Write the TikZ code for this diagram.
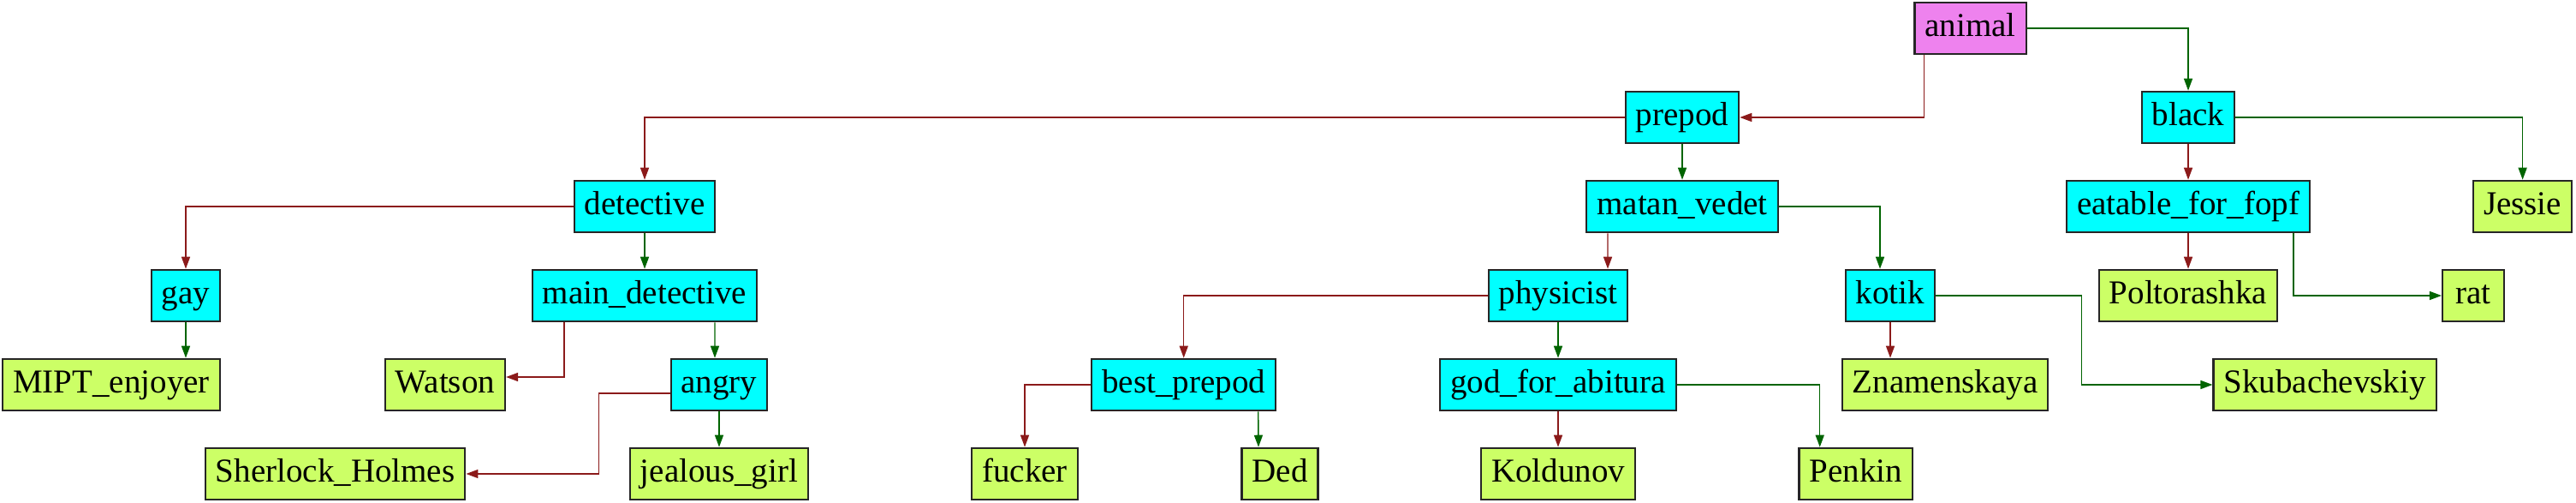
\documentclass[tikz,border=0pt]{standalone}
\usepackage{fontspec}
\setmainfont{Liberation Serif}
\usepackage{xcolor}
\usepackage{tikz}
\usetikzlibrary{arrows.meta}

\definecolor{rootfill}{HTML}{EE82EE}
\definecolor{askfill}{HTML}{00FFFF}
\definecolor{leaffill}{HTML}{CCFF66}
\definecolor{nocol}{HTML}{8B1A1A}
\definecolor{yescol}{HTML}{006400}

\begin{document}
\begin{tikzpicture}[
    box/.style={rectangle, draw=black!85, line width=0.6pt, minimum height=0.55cm, minimum width=0.72cm,
        inner xsep=0.12cm, text height=0.28cm, text depth=0.09cm, font=\fontsize{11.1}{13}\selectfont},
    root/.style={box, fill=rootfill},
    ask/.style={box, fill=askfill},
    leaf/.style={box, fill=leaffill},
    no/.style={draw=nocol, line width=0.4pt},
    yes/.style={draw=yescol, line width=0.4pt},
    ->, >={Triangle[length=0.14cm, width=0.1cm]}
]
\useasboundingbox (0,0) rectangle (30.09,-5.87);

% Questions
\node[root] (animal) at (23.015,-0.33) {animal};
\node[ask] (prepod) at (19.65,-1.37) {prepod};
\node[ask] (black) at (25.56,-1.37) {black};
\node[ask] (detective) at (7.53,-2.41) {detective};
\node[ask] (matan) at (19.65,-2.41) {matan\_vedet};
\node[ask] (eatable) at (25.56,-2.41) {eatable\_for\_fopf};
\node[ask] (gay) at (2.17,-3.45) {gay};
\node[ask] (maindet) at (7.53,-3.45) {main\_detective};
\node[ask] (physicist) at (18.20,-3.45) {physicist};
\node[ask] (kotik) at (22.08,-3.45) {kotik};
\node[ask] (angry) at (8.40,-4.49) {angry};
\node[ask] (bestprepod) at (13.827,-4.49) {best\_prepod};
\node[ask] (god) at (18.20,-4.49) {god\_for\_abitura};

% Answers
\foreach \n/\x/\t in {jessie/29.466/Jessie} {
    \node[leaf] (\n) at (\x,-2.41) {\t};
}
\foreach \n/\x/\t in {poltorashka/25.56/Poltorashka, rat/28.89/rat} {
    \node[leaf] (\n) at (\x,-3.45) {\t};
}
\foreach \n/\x/\t in {mipt/1.30/MIPT\_enjoyer, watson/5.20/Watson, znam/22.72/Znamenskaya, skub/27.156/Skubachevskiy} {
    \node[leaf] (\n) at (\x,-4.49) {\t};
}
\foreach \n/\x/\t in {sherlock/3.916/Sherlock\_Holmes, jealous/8.40/jealous\_girl, fucker/11.97/fucker,
    ded/14.95/Ded, koldunov/18.20/Koldunov, penkin/21.677/Penkin} {
    \node[leaf] (\n) at (\x,-5.53) {\t};
}

% Straight down
\draw[yes] (prepod.south) -- (matan.north);
\draw[no] (black.south) -- (eatable.north);
\draw[yes] (detective.south) -- (maindet.north);
\draw[no] (eatable.south) -- (poltorashka.north);
\draw[yes] (physicist.south) -- (god.north);
\draw[yes] (angry.south) -- (jealous.north);
\draw[no] (god.south) -- (koldunov.north);
\draw[yes] (gay.south) -- (gay.south |- mipt.north);
\draw[no] (kotik.south) -- (kotik.south |- znam.north);
\draw[no] ([xshift=-0.87cm]matan.south) -- ([xshift=0.58cm]physicist.north);
\draw[yes] ([xshift=0.82cm]maindet.south) -- ([xshift=-0.05cm]angry.north);
\draw[yes] ([xshift=0.87cm]bestprepod.south) -- ([xshift=-0.25cm]ded.north);

% Bends
\draw[no] ([xshift=-0.54cm]animal.south) |- (prepod.east);
\draw[yes] (animal.east) -| (black.north);
\draw[no] (prepod.west) -| (detective.north);
\draw[yes] (black.east) -| (jessie.north);
\draw[no] (detective.west) -| (gay.north);
\draw[yes] (matan.east) -| ([xshift=-0.12cm]kotik.north);
\draw[yes] ([xshift=1.23cm]eatable.south) |- (rat.west);
\draw[no] ([xshift=-0.94cm]maindet.south) |- ([yshift=0.09cm]watson.east);
\draw[no] (physicist.west) -| (bestprepod.north);
\draw[yes] (kotik.east) -| ([xshift=-1.53cm]skub.west) -- (skub.west);
\draw[no] ([yshift=-0.1cm]angry.west) -| ([xshift=1.55cm]sherlock.east) -- (sherlock.east);
\draw[no] (bestprepod.west) -| (fucker.north);
\draw[yes] (god.east) -| ([xshift=-0.42cm]penkin.north);

\end{tikzpicture}
\end{document}
